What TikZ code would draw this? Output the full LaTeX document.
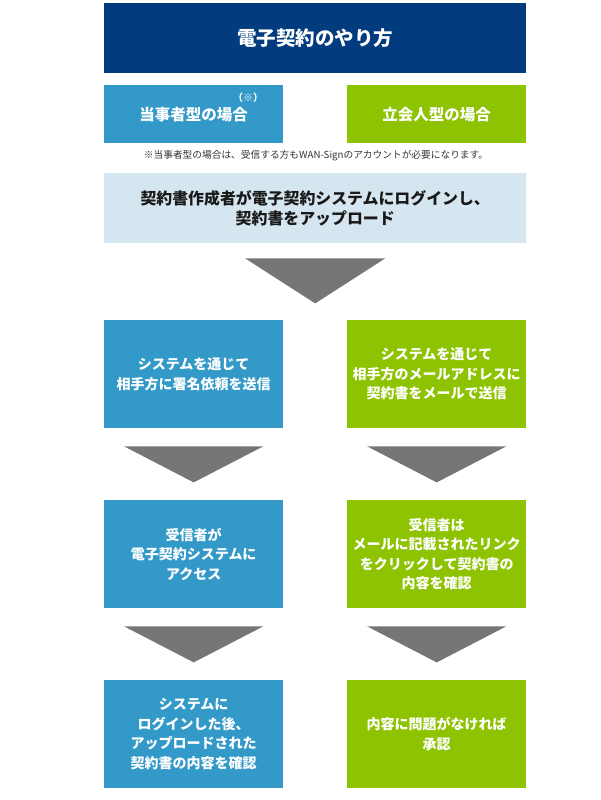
\documentclass[tikz,border=0pt]{standalone}
\usepackage{fontspec}
\setmainfont{Noto Sans CJK JP}
\usetikzlibrary{calc}
\definecolor{navy}{HTML}{023B7E}
\definecolor{bluebox}{HTML}{3399C8}
\definecolor{greenbox}{HTML}{8DC300}
\definecolor{lightbox}{HTML}{D6E6F0}
\definecolor{arrowgray}{HTML}{767676}
\definecolor{notegray}{HTML}{333333}
\begin{document}
\begin{tikzpicture}[x=1pt,y=-1pt]
\useasboundingbox (0,0) rectangle (600,800);
\tikzset{
  base/.style={anchor=north west, inner sep=0pt, align=center},
  stepbox/.style={base, minimum width=179pt, minimum height=108pt, text=white,
    font=\bfseries\fontsize{14}{19.5}\selectfont},
  bluestep/.style={stepbox, fill=bluebox},
  greenstep/.style={stepbox, fill=greenbox},
  tri/.style={fill=arrowgray}
}
% title
\node[base, fill=navy, minimum width=422pt, minimum height=70pt, text=white,
  font=\bfseries\fontsize{19.5}{24}\selectfont] (title) at (104,3) {電子契約のやり方};
% headers
\node[base, fill=bluebox, minimum width=179pt, minimum height=58pt, text=white,
  font=\bfseries\fontsize{15.5}{20}\selectfont] (hl) at (104,85) {当事者型の場合};
\node[font=\bfseries\fontsize{10}{10}\selectfont, text=white, inner sep=0pt] (mark) at (248,98) {（※）};
\node[base, fill=greenbox, minimum width=179pt, minimum height=58pt, text=white,
  font=\bfseries\fontsize{15.5}{20}\selectfont] (hr) at (347,85) {立会人型の場合};
\node[inner sep=0pt, text=notegray, font=\fontsize{9.7}{11}\selectfont] (note) at (316,156)
  {※当事者型の場合は、受信する方もWAN-Signのアカウントが必要になります。};
% common step
\node[base, fill=lightbox, minimum width=422pt, minimum height=70pt, text=black!90,
  font=\bfseries\fontsize{15.9}{20}\selectfont] (common) at (104,173)
  {契約書作成者が電子契約システムにログインし、\\契約書をアップロード};
% left column
\node[bluestep] (l1) at (104,320) {システムを通じて\\相手方に署名依頼を送信};
\node[bluestep] (l2) at (104,500) {受信者が\\電子契約システムに\\アクセス};
\node[bluestep] (l3) at (104,680) {システムに\\ログインした後、\\アップロードされた\\契約書の内容を確認};
% right column
\node[greenstep] (r1) at (347,320) {システムを通じて\\相手方のメールアドレスに\\契約書をメールで送信};
\node[greenstep] (r2) at (347,500) {受信者は\\メールに記載されたリンク\\をクリックして契約書の\\内容を確認};
\node[greenstep] (r3) at (347,680) {内容に問題がなければ\\承認};
% arrows
\fill[tri] ($(common.south)+(-70,15)$) -- ($(common.south)+(70,15)$) -- ($(common.south)+(0,60)$) -- cycle;
\foreach \n in {l1,l2,r1,r2}{
  \fill[tri] ($(\n.south)+(-69.5,18)$) -- ($(\n.south)+(69.5,18)$) -- ($(\n.south)+(0,54)$) -- cycle;
}
\end{tikzpicture}
\end{document}
